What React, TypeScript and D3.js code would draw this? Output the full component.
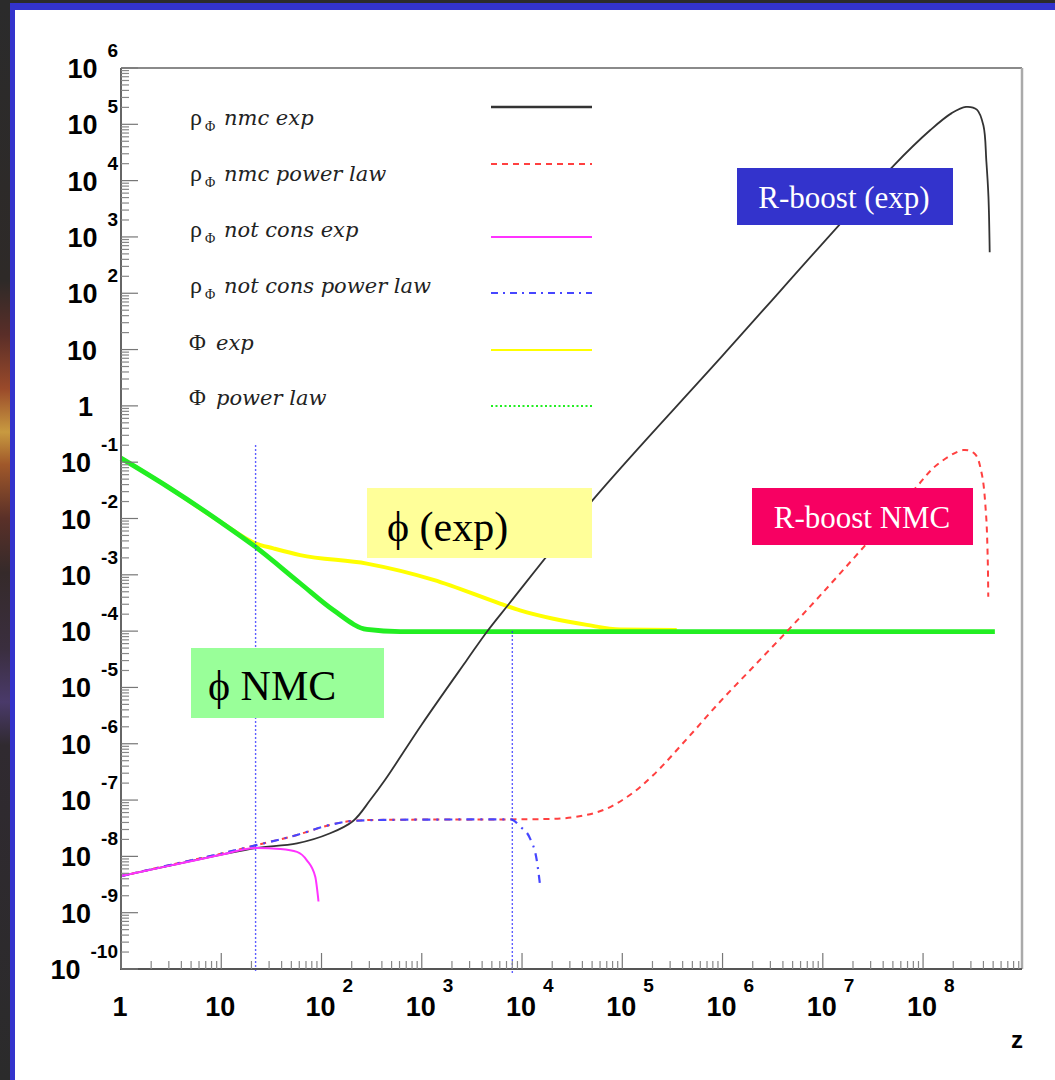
import React from 'react';
import * as d3 from 'd3';

const W = 1055;
const H = 1080;

// plot frame (pixels)
const frame = { left: 121, right: 1022, top: 68, bottom: 969 };

// axis domains
const zDomain: [number, number] = [1, 9.7e8];
const rhoDomain: [number, number] = [1e-10, 1e6];
const zDecades = [0, 1, 2, 3, 4, 5, 6, 7, 8];
const rhoDecades = [-10, -9, -8, -7, -6, -5, -4, -3, -2, -1, 0, 1, 2, 3, 4, 5, 6];

// series, [z, value]
const nmcExp: [number, number][] = [
  [1, 4.47e-9], [3.16, 6.92e-9], [10, 1.07e-8], [22.3, 1.41e-8], [56.9, 1.7e-8],
  [122, 2.57e-8], [208, 4.3e-8], [306, 1.0e-7], [431, 2.29e-7], [1000, 2.2e-6],
  [2818, 3.07e-5], [4467, 9.75e-5], [7261, 2.91e-4], [51400, 0.0219], [1e6, 7.8],
  [4.98e7, 1.78e4], [1.19e8, 8.0e4], [1.93e8, 1.58e5], [2.68e8, 2.04e5], [3.44e8, 1.82e5],
  [4.0e8, 9.5e4], [4.28e8, 2.19e4], [4.49e8, 5.13e3], [4.62e8, 537],
];
const nmcPower: [number, number][] = [
  [1, 4.47e-9], [3.16, 7.08e-9], [10, 1.12e-8], [22.3, 1.58e-8], [56.9, 2.4e-8],
  [122, 3.63e-8], [208, 4.27e-8], [570, 4.47e-8], [7760, 4.54e-8], [30900, 4.9e-8],
  [64600, 6.65e-8], [1.19e5, 1.23e-7], [2.04e5, 2.78e-7], [4.39e5, 1.21e-6], [9.44e5, 5.57e-6],
  [2.03e6, 2.33e-5], [4.53e6, 1.05e-4], [9.38e6, 4.26e-4], [2.54e7, 3.08e-3], [8.63e7, 0.0367],
  [1.37e8, 0.089], [2.52e8, 0.164], [3.29e8, 0.14], [3.84e8, 0.0634], [4.24e8, 0.0123],
  [4.41e8, 2.09e-3], [4.47e8, 4.07e-4],
];
const notConsExp: [number, number][] = [
  [1, 4.47e-9], [3.16, 6.92e-9], [10, 1.07e-8], [22.3, 1.41e-8], [38.7, 1.35e-8],
  [56.9, 1.2e-8], [71.4, 8.5e-9], [86.5, 4.37e-9], [93.3, 1.58e-9],
];
const notConsPower: [number, number][] = [
  [1, 4.47e-9], [3.16, 7.08e-9], [10, 1.12e-8], [22.3, 1.58e-8], [56.9, 2.4e-8],
  [122, 3.63e-8], [208, 4.27e-8], [570, 4.47e-8], [7760, 4.54e-8], [9570, 3.39e-8],
  [12000, 2.09e-8], [14000, 8.7e-9], [15200, 2.88e-9],
];
const phiExp: [number, number][] = [
  [1, 0.118], [2.88, 0.0372], [10, 0.0085], [21.8, 3.63e-3], [33.1, 2.95e-3],
  [61.2, 2.24e-3], [283, 1.58e-3], [1309, 8.13e-4], [6026, 3.09e-4], [9550, 2.34e-4],
  [20560, 1.66e-4], [44260, 1.29e-4], [95060, 1.07e-4], [3.49e5, 1.05e-4],
];
const phiPower: [number, number][] = [
  [1, 0.118], [2.88, 0.0372], [10, 8.5e-3], [21.8, 3.16e-3], [61.2, 7.08e-4],
  [132, 2.34e-4], [283, 1.07e-4], [610, 9.8e-5], [5.2e8, 9.8e-5],
];

// vertical dotted markers: [z, top value, bottom value]
const markers: [number, number, number][] = [
  [22, 0.2, 8.5e-11],
  [8000, 1e-4, 8.5e-11],
];

const legendLabels = [
  { sym: 'rho', text: 'nmc exp' },
  { sym: 'rho', text: 'nmc power law' },
  { sym: 'rho', text: 'not cons exp' },
  { sym: 'rho', text: 'not cons power law' },
  { sym: 'phi', text: 'exp' },
  { sym: 'phi', text: 'power law' },
];

const styles = [
  { color: '#333333', width: 1.8, dash: undefined as string | undefined },
  { color: '#ff4040', width: 2, dash: '6,5' },
  { color: '#ff33ff', width: 2, dash: undefined },
  { color: '#4646ff', width: 2.2, dash: '8,6,2,6' },
  { color: '#ffff00', width: 4, dash: undefined },
  { color: '#22ee22', width: 4.8, dash: undefined },
];

const notes = [
  { text: 'R-boost (exp)', bg: '#3333cc', fg: '#ffffff', size: 31, box: [737, 168, 216, 57], tx: 844, ty: 208 },
  { text: 'R-boost NMC', bg: '#f70062', fg: '#ffffff', size: 31, box: [752, 488, 221, 57], tx: 862, ty: 528 },
  { text: '\u03d5 (exp)', bg: '#ffff99', fg: '#000000', size: 42, box: [367, 488, 225, 70], tx: 387, ty: 541, left: true },
  { text: '\u03d5 NMC', bg: '#99ff99', fg: '#000000', size: 42, box: [191, 648, 193, 70], tx: 208, ty: 700, left: true },
];

const x = d3.scaleLog().domain(zDomain).range([frame.left, frame.right]);
const y = d3.scaleLog().domain(rhoDomain).range([frame.bottom, frame.top]);

const line = d3
  .line<[number, number]>()
  .x((d) => x(d[0]))
  .y((d) => y(d[1]))
  .curve(d3.curveMonotoneX);

const smoothLine = d3
  .line<[number, number]>()
  .x((d) => x(d[0]))
  .y((d) => y(d[1]))
  .curve(d3.curveCatmullRom.alpha(0.5));

const axisFont = '"Liberation Sans", Arial, sans-serif';
const serif = '"Liberation Serif", "Times New Roman", serif';

export default function App() {
  const xMinor: number[] = [];
  zDecades.forEach((n) => {
    for (let k = 2; k <= 9; k++) {
      const v = k * Math.pow(10, n);
      if (v < zDomain[1]) xMinor.push(v);
    }
  });
  const yMinor: number[] = [];
  rhoDecades.slice(0, -1).forEach((n) => {
    for (let k = 2; k <= 9; k++) yMinor.push(k * Math.pow(10, n));
  });

  const series = [nmcExp, nmcPower, notConsExp, notConsPower, phiExp, phiPower];
  const drawOrder = [4, 5, 0, 1, 3, 2];
  const legendY = [125, 181, 237, 293, 350, 405];
  const legendLineY = [107, 164, 237, 293, 350, 406];

  return (
    <svg
      width={W}
      height={H}
      style={{ position: 'absolute', left: 0, top: 0, display: 'block' }}
    >
      <defs>
        <linearGradient id="strip" x1="0" y1="0" x2="0" y2="1">
          <stop offset="0" stopColor="#2b2b2b" />
          <stop offset="0.26" stopColor="#2e2a28" />
          <stop offset="0.31" stopColor="#5a2e28" />
          <stop offset="0.36" stopColor="#9a4a2a" />
          <stop offset="0.40" stopColor="#c89a40" />
          <stop offset="0.43" stopColor="#a0582a" />
          <stop offset="0.48" stopColor="#5a3028" />
          <stop offset="0.53" stopColor="#352a2a" />
          <stop offset="0.6" stopColor="#3a2e3e" />
          <stop offset="0.65" stopColor="#4a3a6a" />
          <stop offset="0.69" stopColor="#302a30" />
          <stop offset="1" stopColor="#2b2b2b" />
        </linearGradient>
      </defs>
      {/* slide background */}
      <rect x={0} y={0} width={W} height={H} fill="#ffffff" />
      <rect x={0} y={0} width={W} height={3} fill="#2b2b2b" />
      <rect x={0} y={0} width={10} height={H} fill="url(#strip)" />
      <rect x={10} y={3} width={W - 10} height={7} fill="#3333cc" />
      <rect x={10} y={3} width={5} height={H} fill="#3333cc" />

      {/* curves */}
      {drawOrder.map((i) => (
        <path
          key={'s' + i}
          d={(i <= 1 ? smoothLine(series[i]) : line(series[i])) || ''}
          fill="none"
          stroke={styles[i].color}
          strokeWidth={styles[i].width}
          strokeDasharray={styles[i].dash}
          strokeLinejoin="round"
        />
      ))}

      {/* vertical dotted markers */}
      {markers.map((m, i) => (
        <line
          key={'m' + i}
          x1={x(m[0])}
          x2={x(m[0])}
          y1={y(m[1])}
          y2={y(m[2])}
          stroke="#2a2aff"
          strokeWidth={1.4}
          strokeDasharray="1.5,2.5"
        />
      ))}

      {/* frame */}
      <line x1={frame.left} x2={frame.right} y1={frame.top} y2={frame.top} stroke="#8a8a8a" strokeWidth={2} />
      <line x1={frame.right} x2={frame.right} y1={frame.top} y2={frame.bottom} stroke="#aaaaaa" strokeWidth={2.5} />
      <line x1={frame.left} x2={frame.left} y1={frame.top} y2={frame.bottom + 1} stroke="#666666" strokeWidth={2} />
      <line x1={frame.left - 1} x2={frame.right} y1={frame.bottom} y2={frame.bottom} stroke="#555555" strokeWidth={2} />

      {/* y ticks */}
      {rhoDecades.map((n) => (
        <line key={'ym' + n} x1={frame.left} x2={frame.left + 17} y1={y(Math.pow(10, n))} y2={y(Math.pow(10, n))} stroke="#777" strokeWidth={1.2} />
      ))}
      {yMinor.map((v, i) => (
        <line key={'yn' + i} x1={frame.left} x2={frame.left + 8} y1={y(v)} y2={y(v)} stroke="#888" strokeWidth={1.2} />
      ))}
      {/* x ticks */}
      {zDecades.map((n) => (
        <line key={'xm' + n} x1={x(Math.pow(10, n))} x2={x(Math.pow(10, n))} y1={frame.bottom} y2={frame.bottom - 16} stroke="#777" strokeWidth={1.2} />
      ))}
      {xMinor.map((v, i) => (
        <line key={'xn' + i} x1={x(v)} x2={x(v)} y1={frame.bottom} y2={frame.bottom - 8} stroke="#888" strokeWidth={1.2} />
      ))}

      {/* y labels */}
      <g fontFamily={axisFont} fontWeight="bold" fill="#000">
        {rhoDecades.map((n) => {
          const ty = y(Math.pow(10, n));
          if (n === 0)
            return (
              <text key={'yl' + n} x={93} y={ty + 10} fontSize={27} textAnchor="end">1</text>
            );
          if (n === 1)
            return (
              <text key={'yl' + n} x={97} y={ty + 10} fontSize={27} textAnchor="end">10</text>
            );
          return (
            <text key={'yl' + n} x={118} y={ty + 10} fontSize={27} textAnchor="end">
              10
              <tspan dx={10} dy={-21} fontSize={19}>{String(n)}</tspan>
            </text>
          );
        })}
      </g>

      {/* x labels */}
      <g fontFamily={axisFont} fontWeight="bold" fill="#000">
        {zDecades.map((n) => {
          const tx = x(Math.pow(10, n));
          return (
            <g key={'xl' + n}>
              <text x={tx - 1} y={1016} fontSize={27} textAnchor="middle">
                {n === 0 ? '1' : '10'}
              </text>
              {n >= 2 && (
                <text x={tx + 21} y={992} fontSize={19}>{String(n)}</text>
              )}
            </g>
          );
        })}
        <text x={1023} y={1048} fontSize={24} textAnchor="end">z</text>
      </g>

      {/* legend */}
      {legendLabels.map((l, i) => (
        <g key={'lg' + i}>
          {l.sym === 'rho' ? (
            <text y={legendY[i]} fill="#222" fontFamily={serif}>
              <tspan x={190} fontSize={24}>ρ</tspan>
              <tspan x={205} dy={6} fontSize={14}>Φ</tspan>
              <tspan x={224} dy={-6} fontSize={21} fontStyle="italic" fontFamily='"DejaVu Serif", serif'>
                {l.text}
              </tspan>
            </text>
          ) : (
            <text y={legendY[i]} fill="#222" fontFamily={serif}>
              <tspan x={189} fontSize={23}>Φ</tspan>
              <tspan x={216} fontSize={21} fontStyle="italic" fontFamily='"DejaVu Serif", serif'>
                {l.text}
              </tspan>
            </text>
          )}
          <line
            x1={491}
            x2={592}
            y1={legendLineY[i]}
            y2={legendLineY[i]}
            stroke={styles[i].color}
            strokeWidth={i === 0 ? 2.5 : 2}
            strokeDasharray={i === 5 ? '2,2.5' : i === 3 ? '7,5,2,5' : styles[i].dash}
          />
        </g>
      ))}

      {/* annotation boxes */}
      {notes.map((nt, i) => (
        <g key={'nt' + i}>
          <rect x={nt.box[0]} y={nt.box[1]} width={nt.box[2]} height={nt.box[3]} fill={nt.bg} />
          <text
            x={nt.tx}
            y={nt.ty}
            fill={nt.fg}
            fontSize={nt.size}
            fontFamily={serif}
            textAnchor={nt.left ? 'start' : 'middle'}
          >
            {nt.text}
          </text>
        </g>
      ))}
    </svg>
  );
}
